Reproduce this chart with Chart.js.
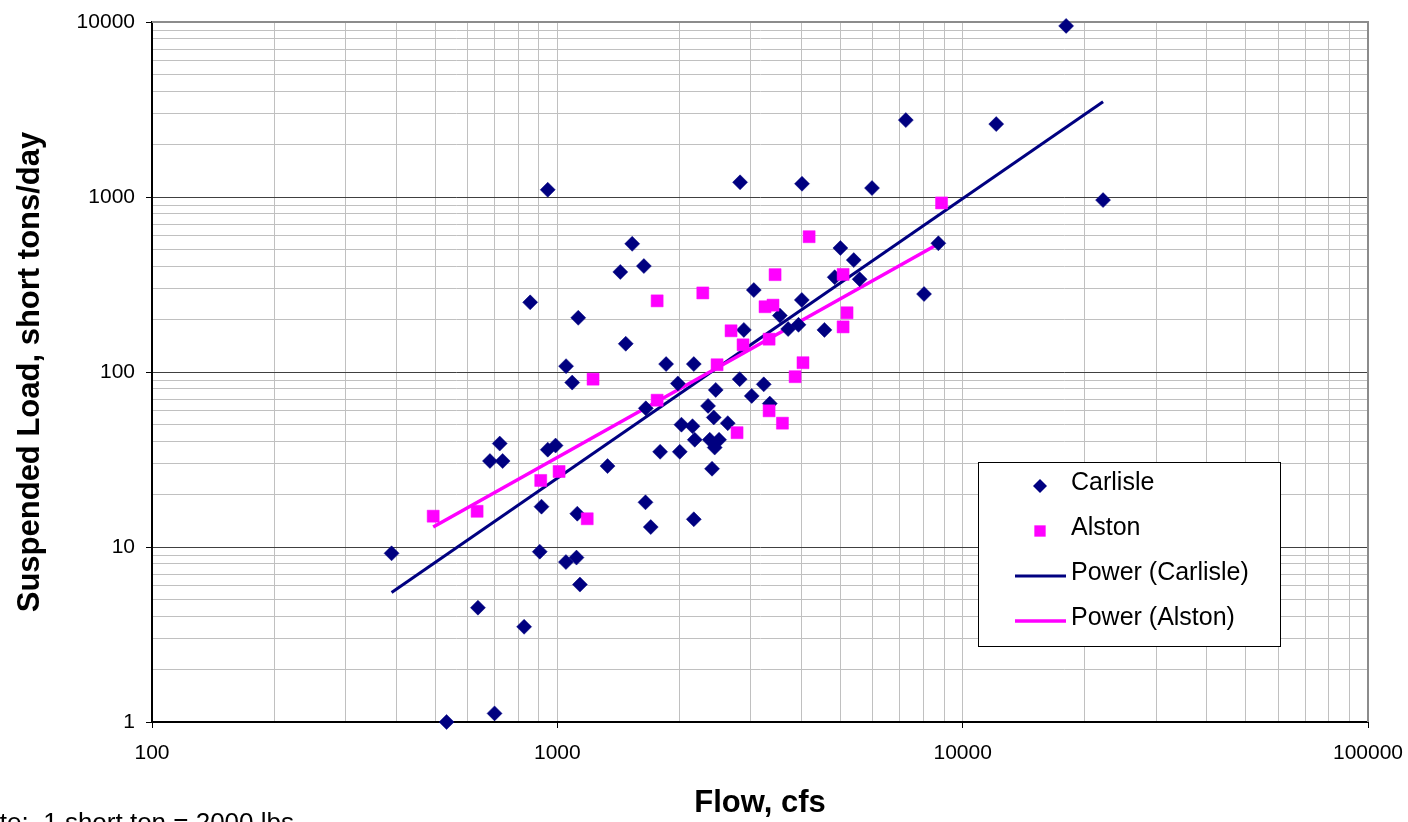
<!DOCTYPE html>
<html>
<head>
<meta charset="utf-8">
<script src="https://cdn.jsdelivr.net/npm/chart.js@4/dist/chart.umd.min.js"></script>
<style>
  html, body { margin: 0; padding: 0; background: #fff; }
  canvas { display: block; }
</style>
</head>
<body>
<canvas id="loadChart" width="1408" height="822"></canvas>
<script>
// flow (cfs) vs suspended load (short tons/day)
const carlisleFlow = [390, 533, 637, 682, 700, 721, 733, 828, 857, 905, 914, 947, 947, 990, 1050, 1051, 1088, 1115, 1120, 1126,
  1137, 1330, 1430, 1475, 1530, 1635, 1650, 1653, 1700, 1793, 1855, 1983, 2005, 2024, 2155, 2171, 2171, 2183, 2354, 2377,
  2408, 2432, 2445, 2459, 2506, 2633, 2818, 2824, 2885, 3017, 3053, 3230, 3343, 3540, 3710, 3935, 4010, 4015, 4560, 4833,
  4993, 5386, 5570, 5975, 7240, 8030, 8710, 12100, 18000, 22200];
const carlisleLoad = [9.2, 1.0, 4.5, 31, 1.12, 39, 31, 3.5, 250, 9.4, 17, 36, 1100, 38, 8.2, 108, 87, 8.7, 15.5, 204,
  6.1, 29, 373, 145, 540, 403, 18, 62, 13, 35, 111, 86, 35, 50, 49, 111, 14.4, 41, 64, 41,
  28, 55, 37, 79, 41, 51, 91, 1213, 174, 73, 294, 85, 66, 210, 176, 186, 258, 1190, 174, 348,
  511, 436, 339, 1125, 2750, 279, 544, 2610, 9500, 960];

const alstonFlow = [494, 634, 910, 1010, 1185, 1225, 1763, 1763, 2285, 2478, 2683, 2776, 2872, 3254, 3330, 3330,
  3405, 3445, 3592, 3860, 4037, 4180, 5070, 5070, 5185, 8870];
const alstonLoad = [15, 16, 24, 27, 14.5, 91, 69, 255, 283, 110, 172, 45, 143, 236, 154, 60,
  241, 360, 51, 94, 113, 593, 361, 181, 218, 925];

// power trend lines, end points as drawn
const carlisleTrendFlow = [390, 22200];
const carlisleTrendLoad = [5.5, 3500];
const alstonTrendFlow = [494, 8900];
const alstonTrendLoad = [13, 555];

const xTickLabels = ['100', '1000', '10000', '100000'];
const yTickLabels = ['1', '10', '100', '1000', '10000'];

const FONT = '"Liberation Sans", Arial, sans-serif';

function toPoints(xs, ys) {
  return xs.map((x, i) => ({ x: x, y: ys[i] }));
}

// decades plus 2..9 in between, like a log grid
function logTicks(labels) {
  const decades = labels.map(Number);
  const ticks = [];
  for (let i = 0; i < decades.length - 1; i++) {
    for (let k = 1; k <= 9; k++) ticks.push({ value: k * decades[i] });
  }
  ticks.push({ value: decades[decades.length - 1] });
  return ticks;
}

const isDecade = (labels, tick) => !!tick && labels.includes(String(tick.value));

const plotFrame = {
  id: 'plotFrame',
  beforeDatasetsDraw(chart) {
    const { ctx, chartArea: a } = chart;
    ctx.save();
    ctx.strokeStyle = '#8c8c8c';
    ctx.lineWidth = 2;
    ctx.beginPath();
    ctx.moveTo(a.left, a.top);
    ctx.lineTo(a.right, a.top);
    ctx.lineTo(a.right, a.bottom);
    ctx.stroke();
    ctx.restore();
  }
};

const boxLegend = {
  id: 'boxLegend',
  afterDatasetsDraw(chart) {
    const ctx = chart.ctx;
    const box = { x: 978, y: 462, w: 302, h: 184 };
    ctx.save();
    ctx.fillStyle = '#fff';
    ctx.fillRect(box.x, box.y, box.w, box.h);
    ctx.strokeStyle = '#000';
    ctx.lineWidth = 1;
    ctx.strokeRect(box.x + 0.5, box.y + 0.5, box.w, box.h);
    ctx.font = '25px ' + FONT;
    ctx.textBaseline = 'middle';
    ctx.textAlign = 'left';
    chart.data.datasets.forEach((ds, i) => {
      const cy = box.y + 21 + i * 45;
      if (ds.showLine) {
        ctx.strokeStyle = ds.borderColor;
        ctx.lineWidth = ds.borderWidth;
        ctx.beginPath();
        ctx.moveTo(1015, cy + 3);
        ctx.lineTo(1066, cy + 3);
        ctx.stroke();
      } else {
        ctx.fillStyle = ds.backgroundColor;
        ctx.strokeStyle = ds.borderColor;
        Chart.helpers.drawPoint(ctx, {
          pointStyle: ds.pointStyle, radius: ds.pointRadius - 0.5, rotation: 0, borderWidth: 0
        }, 1040, cy + 3);
      }
      ctx.fillStyle = '#000';
      ctx.fillText(ds.label, 1071, cy);
    });
    ctx.restore();
  },
  afterDraw(chart) {
    const ctx = chart.ctx;
    ctx.save();
    ctx.font = '26px ' + FONT;
    ctx.fillStyle = '#000';
    ctx.textAlign = 'right';
    ctx.textBaseline = 'alphabetic';
    ctx.fillText('Note:  1 short ton = 2000 lbs', 294, 831);
    ctx.restore();
  }
};

new Chart(document.getElementById('loadChart'), {
  type: 'scatter',
  data: {
    datasets: [
      {
        label: 'Carlisle',
        data: toPoints(carlisleFlow, carlisleLoad),
        pointStyle: 'rectRot',
        pointRadius: 7.5,
        backgroundColor: '#000080',
        borderColor: '#000080',
        borderWidth: 0.5,
        clip: false,
        order: 2
      },
      {
        label: 'Alston',
        data: toPoints(alstonFlow, alstonLoad),
        pointStyle: 'rect',
        pointRadius: 8.5,
        backgroundColor: '#ff00ff',
        borderColor: '#ff00ff',
        borderWidth: 0.5,
        clip: false,
        order: 1
      },
      {
        label: 'Power (Carlisle)',
        data: toPoints(carlisleTrendFlow, carlisleTrendLoad),
        showLine: true,
        pointRadius: 0,
        borderColor: '#000080',
        backgroundColor: '#000080',
        borderWidth: 3,
        order: 4
      },
      {
        label: 'Power (Alston)',
        data: toPoints(alstonTrendFlow, alstonTrendLoad),
        showLine: true,
        pointRadius: 0,
        borderColor: '#ff00ff',
        backgroundColor: '#ff00ff',
        borderWidth: 3.5,
        order: 3
      }
    ]
  },
  options: {
    responsive: false,
    animation: false,
    events: [],
    devicePixelRatio: 1,
    layout: { padding: { top: 22, right: 40, bottom: 0, left: 0 } },
    plugins: {
      legend: { display: false },
      tooltip: { enabled: false }
    },
    scales: {
      x: {
        type: 'logarithmic',
        min: 100,
        max: 100000,
        afterBuildTicks: scale => { scale.ticks = logTicks(xTickLabels); },
        afterFit: scale => {
          scale.height = 100;
          scale.paddingLeft = 0;
          scale.paddingRight = 0;
        },
        ticks: {
          autoSkip: false,
          maxRotation: 0,
          padding: 13,
          color: '#000',
          font: { family: FONT, size: 21 },
          callback: v => xTickLabels.includes(String(v)) ? String(v) : ''
        },
        grid: {
          color: '#c0c0c0',
          lineWidth: 1,
          tickLength: 6,
          tickColor: c => isDecade(xTickLabels, c.tick) ? '#000' : 'rgba(0,0,0,0)'
        },
        border: { color: '#000', width: 2 },
        title: {
          display: true,
          text: 'Flow, cfs',
          color: '#000',
          font: { family: FONT, size: 31, weight: 'bold' },
          padding: { top: 0, bottom: 0 }
        }
      },
      y: {
        type: 'logarithmic',
        min: 1,
        max: 10000,
        afterBuildTicks: scale => { scale.ticks = logTicks(yTickLabels); },
        afterFit: scale => {
          scale.width = 152;
          scale.paddingTop = 0;
          scale.paddingBottom = 0;
        },
        ticks: {
          autoSkip: false,
          padding: 11,
          color: '#000',
          font: { family: FONT, size: 21 },
          callback: v => yTickLabels.includes(String(v)) ? String(v) : ''
        },
        grid: {
          color: c => isDecade(yTickLabels, c.tick) ? '#404040' : '#c0c0c0',
          lineWidth: 1,
          tickLength: 6,
          tickColor: c => isDecade(yTickLabels, c.tick) ? '#000' : 'rgba(0,0,0,0)'
        },
        border: { color: '#000', width: 2 },
        title: {
          display: true,
          text: 'Suspended Load, short tons/day',
          color: '#000',
          font: { family: FONT, size: 31, weight: 'bold' },
          padding: { top: 12, bottom: 0 }
        }
      }
    }
  },
  plugins: [plotFrame, boxLegend]
});
</script>
</body>
</html>
